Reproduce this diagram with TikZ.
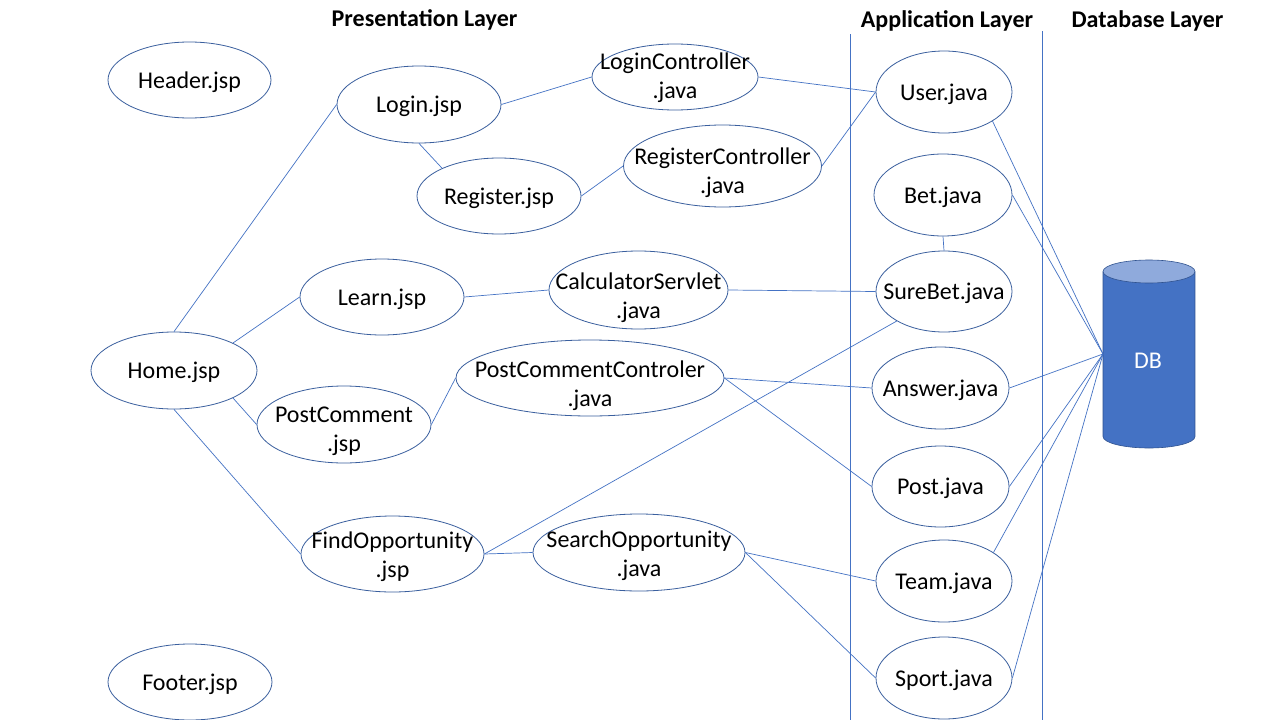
\documentclass[tikz,border=0pt]{standalone}
\usepackage{fontspec}
\setmainfont{Carlito}
\usetikzlibrary{shapes.geometric}
\definecolor{linecol}{HTML}{4472C4}
\definecolor{ellcol}{HTML}{3A5F9E}
\definecolor{dbfill}{HTML}{4472C4}
\definecolor{dbtop}{HTML}{8FAADC}
\definecolor{dbline}{HTML}{2F528F}
\tikzset{
  ell/.style={ellipse, draw=ellcol, line width=0.8pt, inner sep=0pt},
  lbl/.style={inner sep=0pt, align=center, font=\fontsize{24}{29}\selectfont},
  head/.style={inner sep=0pt, font=\fontsize{24}{29}\selectfont\bfseries},
  conn/.style={draw=linecol, line width=0.7pt},
  layerline/.style={draw=linecol, line width=0.8pt}
}
% name, x, y, width, height, text offset downwards, text
\newcommand\ellnode[7]{%
  \node[ell, minimum width=#4pt, minimum height=#5pt] (#1) at (#2,#3) {};
  \node[lbl] (#1-t) at ([yshift=-#6pt]#1.center) {#7};}
\begin{document}
\begin{tikzpicture}[x=1pt,y=-1pt]
\useasboundingbox (0,0) rectangle (1280,720);
\fill[white] (0,0) rectangle (1280,720);

% headings
\node[head] (hpres) at (424.5,20) {Presentation Layer};
\node[head] (happ) at (947,21) {Application Layer};
\node[head] (hdb) at (1147.5,21) {Database Layer};

% layer separators
\coordinate (l1t) at (850,34);
\coordinate (l1b) at (850,720);
\coordinate (l2t) at (1042,31);
\coordinate (l2b) at (1042,720);
\draw[layerline] (l1t) -- (l1b);
\draw[layerline] (l2t) -- (l2b);

% presentation layer
\ellnode{Header}{189.5}{80}{163}{76}{2}{Header.jsp}
\ellnode{Login}{419}{104.5}{164}{77}{2}{Login.jsp}
\ellnode{Register}{499}{196}{164}{76}{2}{Register.jsp}
\ellnode{Learn}{382}{297}{164}{76}{2}{Learn.jsp}
\ellnode{Home}{174}{370.5}{166}{77}{2}{Home.jsp}
\ellnode{PostComment}{344}{424.5}{174}{77}{7}{PostComment\\.jsp}
\ellnode{FindOpp}{392.5}{554}{183}{76}{3}{FindOpportunity\\.jsp}
\ellnode{Footer}{190}{682}{164}{76}{2}{Footer.jsp}
\ellnode{LoginCtrl}{675}{77}{166}{66}{1}{LoginController\\.java}
\ellnode{RegCtrl}{722.5}{166}{198}{82}{7}{RegisterController\\.java}
\ellnode{Calc}{638.5}{290}{179}{78}{8}{CalculatorServlet\\.java}
\ellnode{PCC}{590}{378}{268}{76}{8}{PostCommentControler\\.java}
\ellnode{SO}{639}{552.5}{212}{77}{3}{SearchOpportunity\\.java}

% application layer
\ellnode{User}{944}{92}{136}{82}{2}{User.java}
\ellnode{Bet}{943}{195}{138}{82}{2}{Bet.java}
\ellnode{SureBet}{944}{291.5}{136}{81}{2}{SureBet.java}
\ellnode{Answer}{940.5}{388}{137}{82}{2}{Answer.java}
\ellnode{Post}{940.5}{486.5}{137}{81}{2}{Post.java}
\ellnode{Team}{944}{581}{136}{82}{2}{Team.java}
\ellnode{Sport}{944}{678}{136}{82}{2}{Sport.java}

% database cylinder
\fill[dbfill] (1103,271.5) rectangle (1195,436.5);
\fill[dbfill] (1149,436.5) ellipse [x radius=46pt, y radius=11.5pt];
\draw[dbline, line width=0.6pt] (1103,271.5) -- (1103,436.5)
  arc[start angle=180, end angle=360, x radius=46pt, y radius=11.5pt] -- (1195,271.5);
\filldraw[fill=dbtop, draw=dbline, line width=0.6pt] (1149,271.5) ellipse [x radius=46pt, y radius=11.5pt];
\node[lbl, text=white] (DB) at (1148,361) {DB};
\coordinate (dbw) at (1103,354);

% connectors
\draw[conn] (Home.north) -- (Login.west);
\draw[conn] (Home.25) -- (Learn.west);
\draw[conn] (Home.-25) -- (PostComment.west);
\draw[conn] (Home.south) -- (FindOpp.west);
\draw[conn] (Login.south) -- (Register.154);
\draw[conn] (Login.east) -- (LoginCtrl.west);
\draw[conn] (Register.east) -- (RegCtrl.west);
\draw[conn] (LoginCtrl.east) -- (User.west);
\draw[conn] (RegCtrl.east) -- (User.west);
\draw[conn] (Learn.east) -- (Calc.west);
\draw[conn] (Calc.east) -- (SureBet.west);
\draw[conn] (Bet.south) -- (SureBet.north);
\draw[conn] (FindOpp.east) -- (SureBet.212);
\draw[conn] (FindOpp.east) -- (SO.west);
\draw[conn] (PostComment.east) -- (PCC.west);
\draw[conn] (PCC.east) -- (Answer.west);
\draw[conn] (PCC.east) -- (Post.west);
\draw[conn] (SO.east) -- (Team.west);
\draw[conn] (SO.east) -- (Sport.west);
\draw[conn] (User.-31) -- (dbw);
\draw[conn] (Bet.east) -- (dbw);
\draw[conn] (Answer.east) -- (dbw);
\draw[conn] (Post.east) -- (dbw);
\draw[conn] (Team.30) -- (dbw);
\draw[conn] (Sport.east) -- (dbw);
\end{tikzpicture}
\end{document}
